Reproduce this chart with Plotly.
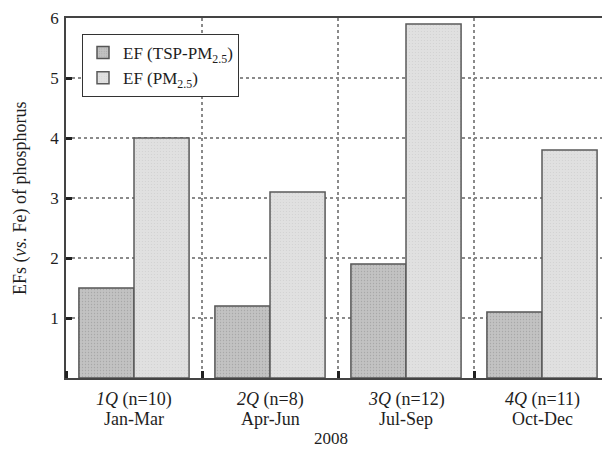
import plotly.graph_objects as go

quarter_codes = ["<i>1Q</i> (n=10)", "<i>2Q</i> (n=8)", "<i>3Q</i> (n=12)", "<i>4Q</i> (n=11)"]
quarter_months = ["Jan-Mar", "Apr-Jun", "Jul-Sep", "Oct-Dec"]
ef_tsp_pm25 = [1.5, 1.2, 1.9, 1.1]
ef_pm25 = [4.0, 3.1, 5.9, 3.8]
y_ticks = [1, 2, 3, 4, 5, 6]

xpos = list(range(len(quarter_codes)))
FONT = "Liberation Serif, Times New Roman, serif"
TXT = "#1e1e1e"
PLOT_H = 360.0
PLOT_W = 536.0
XRANGE = [-0.5, 3.5 - 8 / 136]

fig = go.Figure()
fig.add_trace(go.Bar(
    x=xpos, y=ef_tsp_pm25, name="EF (TSP-PM<sub>2.5</sub>)",
    marker=dict(color="#bdbdbd", line=dict(color="#555555", width=1.5),
                pattern=dict(shape=".", size=3, solidity=0.15, fgcolor="#a8a8a8", bgcolor="#c2c2c2")),
))
fig.add_trace(go.Bar(
    x=xpos, y=ef_pm25, name="EF (PM<sub>2.5</sub>)",
    marker=dict(color="#dedede", line=dict(color="#5a5a5a", width=1.5),
                pattern=dict(shape=".", size=3, solidity=0.1, fgcolor="#d0d0d0", bgcolor="#e0e0e0")),
))

fig.update_layout(
    template="none",
    width=602, height=459,
    margin=dict(l=66, r=0, t=18, b=81, autoexpand=False),
    paper_bgcolor="white", plot_bgcolor="white",
    barmode="group", bargap=0.19, bargroupgap=0,
    font=dict(family=FONT, size=16, color=TXT),
    showlegend=True,
    legend=dict(x=(82 - 66) / PLOT_W, y=(378 - 34) / PLOT_H, xanchor="left", yanchor="top",
                bgcolor="white", bordercolor="#333333", borderwidth=1,
                font=dict(family=FONT, size=17, color=TXT),
                tracegroupgap=0),
    xaxis=dict(
        range=XRANGE, automargin=False,
        tickmode="array", tickvals=xpos, showticklabels=False,
        ticks="", showgrid=False, zeroline=False,
        showline=True, linecolor="#444444", linewidth=1.5, mirror=True,
        minor=dict(tick0=0.5, dtick=1, showgrid=True, griddash="dot", gridcolor="#8a8a8a",
                   gridwidth=1.5, ticks="inside", ticklen=7, tickwidth=2.5, tickcolor="#222222"),
    ),
    xaxis2=dict(overlaying="x", side="top", anchor="y", range=XRANGE, automargin=False,
                showticklabels=False, ticks="", showgrid=False, zeroline=False, showline=False,
                tickmode="array", tickvals=xpos,
                minor=dict(tick0=0.5, dtick=1, showgrid=False, ticks="inside", ticklen=7,
                           tickwidth=2.5, tickcolor="#222222")),
    yaxis=dict(
        range=[0, 6], automargin=False, tickmode="array", tickvals=y_ticks,
        ticks="inside", ticklen=6, tickwidth=2.5, tickcolor="#222222",
        showgrid=True, griddash="dot", gridcolor="#8a8a8a", gridwidth=1.5,
        zeroline=False, showline=True, linecolor="#444444", linewidth=1.5, mirror=True,
        tickfont=dict(family=FONT, size=17, color=TXT), ticklabelstandoff=2,
    ),
)

for xi, code, month in zip(xpos, quarter_codes, quarter_months):
    fig.add_annotation(text=code, xref="x", yref="paper", x=xi, y=-(399 - 378) / PLOT_H,
                       yanchor="middle", showarrow=False,
                       font=dict(family=FONT, size=18, color=TXT))
    fig.add_annotation(text=month, xref="x", yref="paper", x=xi, y=-(419 - 378) / PLOT_H,
                       yanchor="middle", showarrow=False,
                       font=dict(family=FONT, size=18, color=TXT))

fig.add_annotation(text="EFs (<i>vs.</i> Fe) of phosphorus", textangle=-90,
                   xref="paper", yref="paper", x=(20 - 66) / PLOT_W, y=0.5,
                   xanchor="center", showarrow=False,
                   font=dict(family=FONT, size=18, color=TXT))
fig.add_annotation(text="2008", xref="paper", yref="paper",
                   x=(331 - 66) / PLOT_W, y=-(438 - 378) / PLOT_H, yanchor="middle",
                   showarrow=False, font=dict(family=FONT, size=17, color=TXT))

fig.write_html("out.html", config={"displayModeBar": False},
               post_script="document.body.style.margin='0';document.body.style.overflow='hidden';")
